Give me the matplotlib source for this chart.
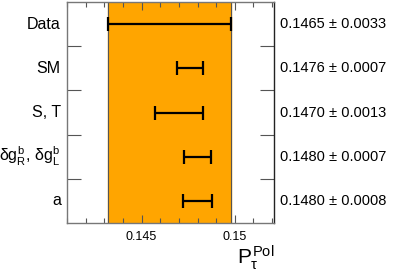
import matplotlib
matplotlib.use('Agg')
from matplotlib import pyplot as plt

plt.rcParams['font.family'] = ['Liberation Sans', 'DejaVu Sans']
plt.rcParams['mathtext.fontset'] = 'custom'
plt.rcParams['mathtext.rm'] = 'Liberation Sans'
plt.rcParams['mathtext.it'] = 'Liberation Sans'
plt.rcParams['mathtext.bf'] = 'Liberation Sans:bold'

# valores de la figura
etiquetas = ['Data', 'SM', 'S, T', r'$\delta g^b_R$, $\delta g^b_L$', 'a']
valores = [0.1465, 0.1476, 0.1470, 0.1480, 0.1480]
errores = [0.0033, 0.0007, 0.0013, 0.0007, 0.0008]
textos = ['0.1465 ± 0.0033', '0.1476 ± 0.0007', '0.1470 ± 0.0013',
          '0.1480 ± 0.0007', '0.1480 ± 0.0008']

fig = plt.figure(figsize=(4.07, 2.71), dpi=100)
ax = fig.add_axes([67/407, 48/271, 207/407, 221/271])

n = len(valores)
ys = [n - 0.5 - i for i in range(n)]

# banda naranja de los datos
ax.axvspan(valores[0] - errores[0], valores[0] + errores[0], color='#FFA500', zorder=0)
ax.axvline(valores[0] - errores[0], color='#555555', lw=0.8, zorder=1)
ax.axvline(valores[0] + errores[0], color='#555555', lw=0.8, zorder=1)

ax.errorbar(valores, ys, xerr=errores, fmt='none', ecolor='black',
            elinewidth=1.6, capsize=5, capthick=1.6, zorder=3)

ax.set_xlim(0.141, 0.1521)
ax.set_ylim(0, n)
ax.set_xticks([0.145, 0.15])
ax.set_xticklabels(['0.145', '0.15'], fontsize=9)
ax.set_xticks([0.141 + 0.001 * k for k in range(12)], minor=True)
ax.tick_params(axis='x', which='both', direction='in', top=True, bottom=True)
ax.tick_params(axis='x', which='major', length=6, width=0.8, color='#555555', pad=6)
ax.tick_params(axis='x', which='minor', length=3.5, width=0.8, color='#555555')

ax.set_yticks([1, 2, 3, 4])
ax.set_yticklabels([])
ax.tick_params(axis='y', which='major', direction='in', left=True, right=True,
               length=10, width=0.8, color='#555555')

for s in ['left', 'bottom', 'top']:
    ax.spines[s].set_color('#777777')
for s in ax.spines.values():
    s.set_linewidth(1.0)
ax.spines['right'].set_color('#222222')

for y, lab, txt in zip(ys, etiquetas, textos):
    ax.text(-0.03, y, lab, transform=ax.get_yaxis_transform(), ha='right',
            va='center', fontsize=11.5)
    ax.text(1.03, y, txt, transform=ax.get_yaxis_transform(), ha='left',
            va='center', fontsize=10.5)

fig.text(274/407, 1 - 258/271, r'$P^{Pol}_{\tau}$', ha='right', va='center', fontsize=15)

fig.savefig('out.png', dpi=100)
